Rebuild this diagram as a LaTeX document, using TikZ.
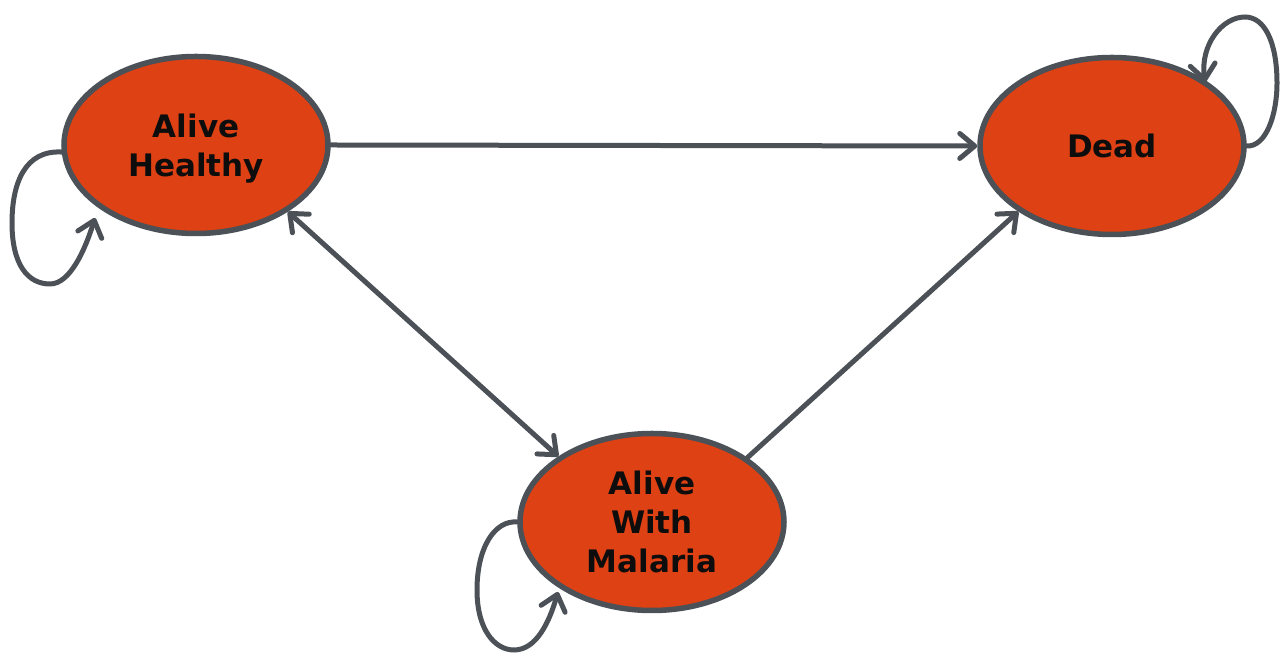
\documentclass[tikz,border=0pt]{standalone}
\usepackage{fontspec}
\setmainfont{DejaVu Sans}
\usetikzlibrary{shapes.geometric,arrows.meta,calc}
\definecolor{statefill}{RGB}{221,65,20}
\definecolor{edgegray}{RGB}{75,81,87}
\tikzset{
  state/.style={ellipse, draw=edgegray, line width=5.5pt, fill=statefill,
    minimum width=264pt, minimum height=177pt, inner sep=0pt, text depth=0pt,
    align=center, font=\fontsize{31}{39}\selectfont\bfseries, text=black!95},
  barb/.tip={Straight Barb[length=15pt,width=25pt,line cap=round,line join=round]},
  conn/.style={draw=edgegray, line width=5pt, line cap=round, -barb},
  biconn/.style={conn, barb-barb}
}
\begin{document}
\begin{tikzpicture}[x=1pt,y=1pt]
\useasboundingbox (0,0) rectangle (1280,655);
\node[state] (h) at (196,510) {Alive\\Healthy};
\node[state] (d) at (1112,509) {Dead};
\node[state] (m) at (652,133) {Alive\\With\\Malaria};

% self loops
\draw[conn] (h.183) .. controls (25,505) and (12,472) .. (12,432)
  .. controls (12,390) and (28,371) .. (50,371)
  .. controls (70,371) and (85,405) .. ($(h.center)+(-101,-73)$);
\draw[conn] (d.0) .. controls (1266,508) and (1277,540) .. (1277,572)
  .. controls (1277,612) and (1265,638) .. (1245,638)
  .. controls (1222,638) and (1200,610) .. ($(d.center)+(93,64)$);
\draw[conn] (m.180) .. controls (495,135) and (477,108) .. (477,65)
  .. controls (477,25) and (495,5) .. (514,5)
  .. controls (536,5) and (549,32) .. ($(m.center)+(-94,-70)$);

% transitions
\draw[conn] (h.east) -- (d.west);
\draw[biconn] (h.-36) -- (m.145);
\draw[conn] (m.34) -- (d.215);
\end{tikzpicture}
\end{document}
